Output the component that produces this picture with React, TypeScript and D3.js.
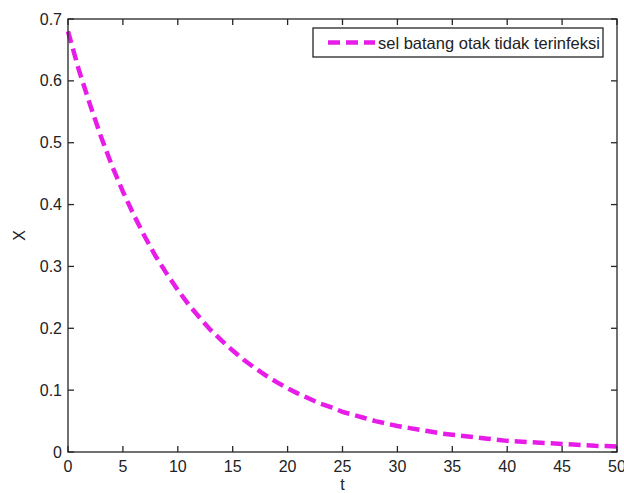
import React from "react";
import * as d3 from "d3";

const tValues = [0,1,2,3,4,5,6,7,8,9,10,11,12,13,14,15,16,17,18,19,20,21,22,23,24,25,26,27,28,29,30,31,32,33,34,35,36,37,38,39,40,41,42,43,44,45,46,47,48,49,50];
const xValues = [0.68,0.617,0.562,0.51,0.463,0.421,0.383,0.348,0.316,0.288,0.262,0.238,0.217,0.197,0.18,0.164,0.149,0.136,0.124,0.113,0.103,0.094,0.086,0.078,0.072,0.065,0.06,0.055,0.05,0.046,0.042,0.039,0.036,0.033,0.03,0.028,0.026,0.024,0.022,0.02,0.018,0.017,0.016,0.015,0.014,0.013,0.012,0.011,0.01,0.0095,0.009];
const xTicks = [0,5,10,15,20,25,30,35,40,45,50];
const yTicks = [0,0.1,0.2,0.3,0.4,0.5,0.6,0.7];
const legendLabel = "sel batang otak tidak terinfeksi";
const xLabel = "t";
const yLabel = "X";

export default function App() {
  const W = 624, H = 493;
  const left = 68, right = 617, top = 19, bottom = 452;
  const x = d3.scaleLinear().domain([0, 50]).range([left, right]);
  const y = d3.scaleLinear().domain([0, 0.7]).range([bottom, top]);
  const line = d3.line<number>().x((_, i) => x(tValues[i])).y((d) => y(d));
  const axisColor = "#262626";
  const font = "'Liberation Sans', Arial, sans-serif";
  const lineColor = "#e81ce8";
  const tl = 6;
  const fs = 16;
  return (
    <svg width={W} height={H} style={{ position: "absolute", left: 0, top: 0, background: "#fff" }}>
      <rect x={0} y={0} width={W} height={H} fill="#fff" />
      <path d={line(xValues) || ""} fill="none" stroke={lineColor} strokeWidth={4.5} strokeDasharray="12 6" />
      <rect x={left} y={top} width={right - left} height={bottom - top} fill="none" stroke={axisColor} strokeWidth={1.3} />
      {xTicks.map((t) => (
        <g key={"x" + t}>
          <line x1={x(t)} x2={x(t)} y1={bottom} y2={bottom - tl} stroke={axisColor} strokeWidth={1.3} />
          <line x1={x(t)} x2={x(t)} y1={top} y2={top + tl} stroke={axisColor} strokeWidth={1.3} />
          <text x={x(t)} y={bottom + 20} textAnchor="middle" fontFamily={font} fontSize={fs} fill="#222">{t}</text>
        </g>
      ))}
      {yTicks.map((t) => (
        <g key={"y" + t}>
          <line x1={left} x2={left + tl} y1={y(t)} y2={y(t)} stroke={axisColor} strokeWidth={1.3} />
          <line x1={right} x2={right - tl} y1={y(t)} y2={y(t)} stroke={axisColor} strokeWidth={1.3} />
          <text x={left - 6} y={y(t) + 5.5} textAnchor="end" fontFamily={font} fontSize={fs} fill="#222">{t}</text>
        </g>
      ))}
      <text x={(left + right) / 2} y={490} textAnchor="middle" fontFamily={font} fontSize={fs} fill="#222">{xLabel}</text>
      <text x={0} y={0} transform={`translate(25,${(top + bottom) / 2}) rotate(-90)`} textAnchor="middle" fontFamily={font} fontSize={fs} fill="#222">{yLabel}</text>
      <rect x={313} y={28} width={290} height={29} fill="#fff" stroke={axisColor} strokeWidth={1.3} />
      <line x1={328} x2={375} y1={42.5} y2={42.5} stroke={lineColor} strokeWidth={4.5} strokeDasharray="12 6" />
      <text x={378} y={48.5} fontFamily={font} fontSize={16.5} fill="#222">{legendLabel}</text>
    </svg>
  );
}
